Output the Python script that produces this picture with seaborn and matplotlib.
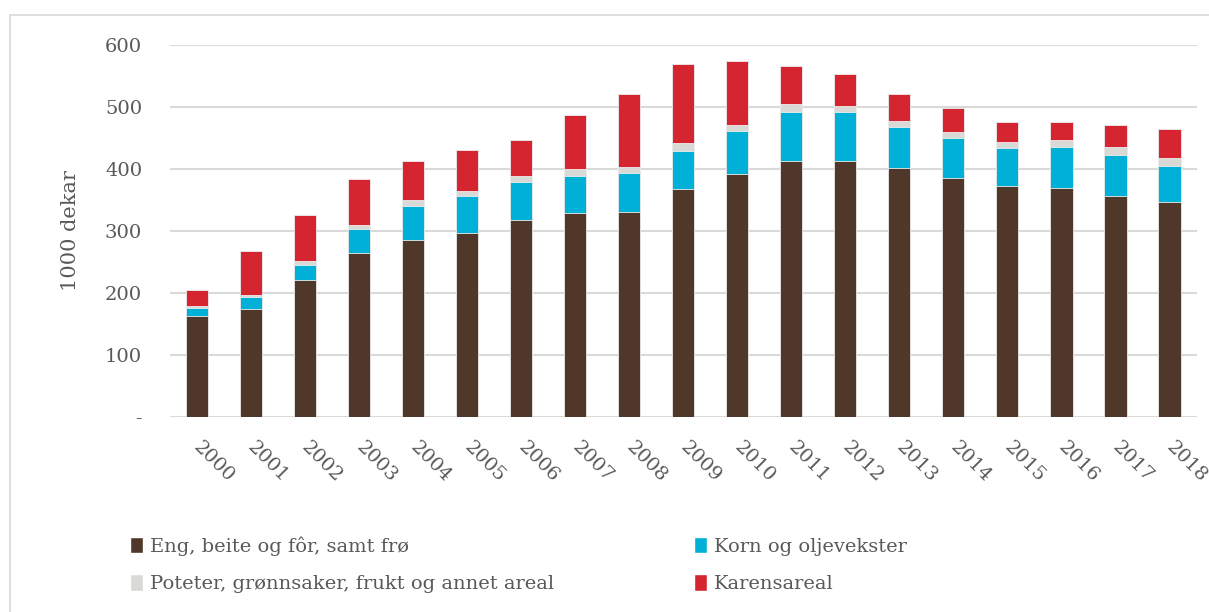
import matplotlib
matplotlib.use("Agg")
import matplotlib.pyplot as plt
import matplotlib.transforms as mtransforms
import seaborn as sns
import numpy as np
import pandas as pd
from matplotlib.patches import Patch, Rectangle

years = [str(y) for y in range(2000, 2019)]
eng = [163, 175, 221, 264, 286, 297, 318, 329, 331, 368, 392, 413, 413, 401, 385, 372, 370, 357, 346]
korn = [13, 18, 25, 40, 55, 60, 61, 60, 63, 61, 69, 78, 79, 66, 65, 61, 66, 66, 59]
poteter = [4, 4, 6, 6, 9, 7, 9, 11, 9, 12, 10, 13, 10, 10, 9, 10, 11, 13, 13]
karens = [25, 70, 73, 74, 62, 66, 58, 87, 118, 128, 102, 61, 51, 44, 39, 33, 29, 34, 47]

labels = ["Eng, beite og fôr, samt frø", "Korn og oljevekster",
          "Poteter, grønnsaker, frukt og annet areal", "Karensareal"]
colors = ["#4F3729", "#00B0D7", "#D9D9D6", "#D42531"]
yticks = [0, 100, 200, 300, 400, 500, 600]
yticklabels = ["-", "100", "200", "300", "400", "500", "600"]

sns.set_theme(style="white")
plt.rcParams["font.family"] = ["DejaVu Serif"]
text_color = "#595959"

df = pd.DataFrame({"year": years, "eng": eng, "korn": korn, "poteter": poteter, "karens": karens})
df["c1"] = df["eng"]
df["c2"] = df["c1"] + df["korn"]
df["c3"] = df["c2"] + df["poteter"]
df["c4"] = df["c3"] + df["karens"]

fig = plt.figure(figsize=(12.09, 6.12), dpi=100)
ax = fig.add_axes([170 / 1209, 1 - 417.3 / 612, (1196.5 - 170) / 1209, (417.3 - 44.7) / 612])

for col, c in zip(["c4", "c3", "c2", "c1"], [colors[3], colors[2], colors[1], colors[0]]):
    sns.barplot(data=df, x="year", y=col, color=c, width=0.41, ax=ax,
                edgecolor="#EDEDED", linewidth=0.6, saturation=1, zorder=3)

ax.set_ylim(0, 600)
ax.set_xlim(-0.5, 18.5)
ax.set_yticks(yticks)
ax.set_yticklabels(yticklabels, fontsize=14, color=text_color)
ax.yaxis.grid(True, color="#D9D9D9", linewidth=1.5, zorder=0)
ax.set_axisbelow(True)
for s in ax.spines.values():
    s.set_visible(False)
ax.tick_params(axis="y", length=0, pad=20)
ax.tick_params(axis="x", length=0, pad=15)
ax.set_xticks(range(len(years)))
ax.set_xticklabels(years, rotation=-45, ha="left", va="top", rotation_mode="anchor",
                   fontsize=14, color=text_color)
offset = mtransforms.ScaledTranslation(6 / 100, 0, fig.dpi_scale_trans)
for t in ax.get_xticklabels():
    t.set_transform(t.get_transform() + offset)
ax.set_xlabel("")
ax.set_ylabel("1000 dekar", fontsize=15, color=text_color, labelpad=18)

handles = [Patch(facecolor=colors[0]), Patch(facecolor=colors[2]),
           Patch(facecolor=colors[1]), Patch(facecolor=colors[3])]
hl = [labels[0], labels[2], labels[1], labels[3]]
fig.legend(handles, hl, ncol=2, loc="upper left", bbox_to_anchor=(113 / 1209, 1 - 519 / 612),
           frameon=False, fontsize=14, handlelength=0.65, handleheight=0.9, handletextpad=0.35,
           columnspacing=7.2, labelspacing=0.95, labelcolor=text_color)

fig.patches.append(Rectangle((10 / 1209, -0.1), 1.2, 1 - 15 / 612 + 0.1, transform=fig.transFigure,
                             fill=False, edgecolor="#D9D9D9", linewidth=1.2, zorder=0))

fig.savefig("out.png", dpi=100)
